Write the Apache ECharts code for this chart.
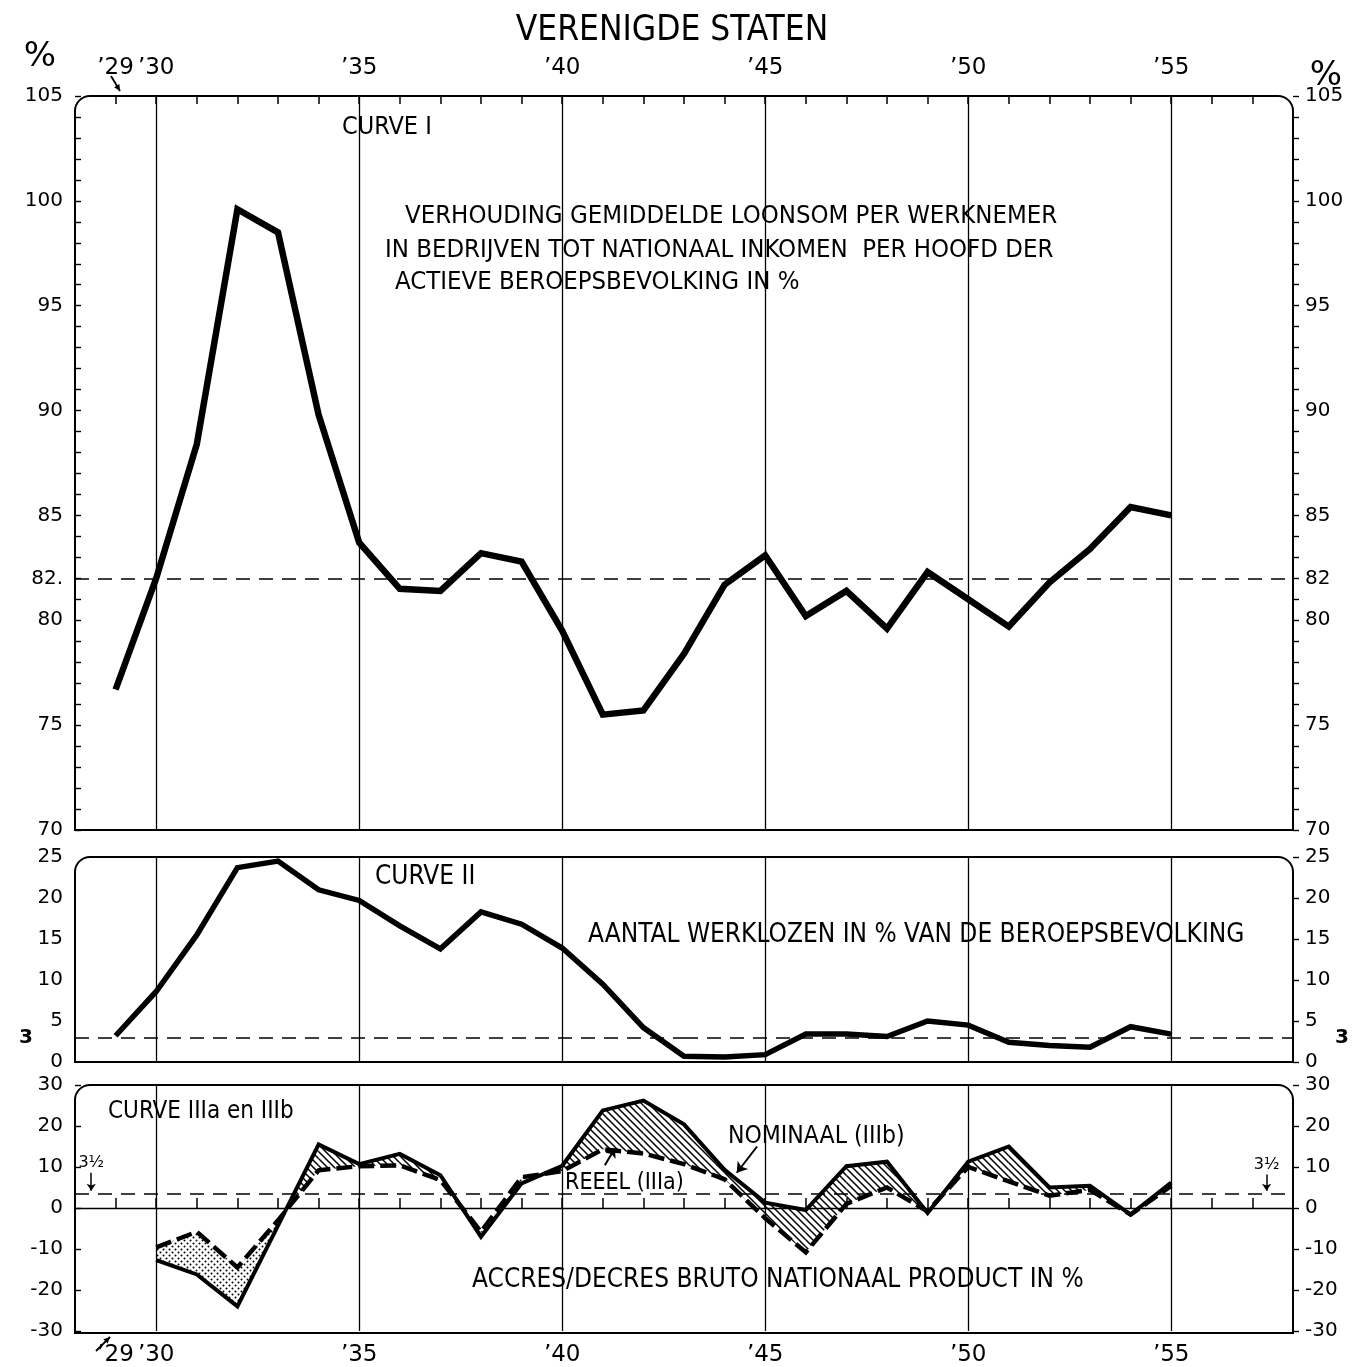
<!DOCTYPE html>
<html><head><meta charset="utf-8">
<script src="https://cdn.jsdelivr.net/npm/echarts@6/dist/echarts.min.js"></script>
<style>html,body{margin:0;padding:0;background:#fff}#c{width:1363px;height:1367px}</style>
</head><body><div id="c"></div>
<script>
// ---------------- DATA ----------------
const years = [1929,1930,1931,1932,1933,1934,1935,1936,1937,1938,1939,1940,1941,1942,1943,1944,1945,1946,1947,1948,1949,1950,1951,1952,1953,1954,1955];
// Curve I: loonsom per werknemer / nationaal inkomen per hoofd (%)
const curveI = [76.7,82.0,88.4,99.6,98.5,89.8,83.7,81.5,81.4,83.2,82.8,79.5,75.5,75.7,78.4,81.7,83.1,80.2,81.4,79.6,82.3,81.0,79.7,81.8,83.4,85.4,85.0];
// Curve II: werklozen in % van de beroepsbevolking
const curveII = [3.2,8.6,15.5,23.7,24.5,21.0,19.7,16.6,13.8,18.3,16.8,13.9,9.5,4.2,0.7,0.6,0.9,3.4,3.4,3.1,5.0,4.5,2.4,2.0,1.8,4.3,3.4];
// Curve III: accres/decres bruto nationaal product in %
const yearsIII = [1930,1931,1932,1933,1934,1935,1936,1937,1938,1939,1940,1941,1942,1943,1944,1945,1946,1947,1948,1949,1950,1951,1952,1953,1954,1955];
const nominaal = [-12.7,-16.2,-24.0,-4.3,15.5,10.7,13.2,8.0,-7.0,6.0,10.3,23.8,26.2,20.4,9.3,1.3,-0.5,10.2,11.3,-1.2,11.3,15.0,5.0,5.4,-1.6,6.2];
const reeel    = [-9.6,-5.8,-14.5,-3.0,9.2,10.2,10.4,6.8,-5.8,7.5,9.0,14.3,13.3,10.7,7.0,-2.5,-10.8,1.0,5.0,-0.8,10.0,6.5,3.0,4.4,-1.6,5.4];
// reference levels
const refI = 82, refII = 3, refIII = 3.5;
// ticks / labels
const xLabelYears = [1929,1930,1935,1940,1945,1950,1955];
const xTickYears = [1929,1930,1931,1932,1933,1934,1935,1936,1937,1938,1939,1940,1941,1942,1943,1944,1945,1946,1947,1948,1949,1950,1951,1952,1953,1954,1955,1956,1957];
const gridYears = [1930,1935,1940,1945,1950,1955];
const yLabelsI = [70,75,80,82,85,90,95,100,105];
const yTicksI = [70,71,72,73,74,75,76,77,78,79,80,81,82,83,84,85,86,87,88,89,90,91,92,93,94,95,96,97,98,99,100,101,102,103,104,105];
const yLabelsII = [0,5,10,15,20,25];
const yLabelsIII = [-30,-20,-10,0,10,20,30];

// ---------------- LAYOUT ----------------
const L = 75, R = 1293;
const G = [
  {top: 96, bottom: 830},
  {top: 857, bottom: 1062},
  {top: 1085, bottom: 1333}
];
const FC = "'DejaVu Sans Condensed','Liberation Sans Narrow','DejaVu Sans',sans-serif";
const FN = "'DejaVu Sans',sans-serif";
const X0 = 1928, X1 = 1958;

function hatch(){
  const c=document.createElement('canvas'); c.width=7; c.height=7;
  const g=c.getContext('2d'); g.strokeStyle='#000'; g.lineWidth=1.5;
  g.beginPath(); g.moveTo(-1,-1); g.lineTo(8,8); g.moveTo(-1,6); g.lineTo(1,8); g.moveTo(6,-1); g.lineTo(8,1); g.stroke();
  return c;
}
function dots(){
  const c=document.createElement('canvas'); c.width=6; c.height=6;
  const g=c.getContext('2d'); g.fillStyle='#000';
  g.beginPath(); g.arc(1.5,1.5,1.0,0,Math.PI*2); g.arc(4.5,4.5,1.0,0,Math.PI*2); g.fill();
  return c;
}
const HATCH = {image: hatch(), repeat: 'repeat'};
const DOTS = {image: dots(), repeat: 'repeat'};

const yr = v => '\u2019' + String(v).slice(2);
const thin = {color:'#000', width:1.3, type:'solid'};
const refDash = {color:'#000', width:1.6, type:[14,9]};

function vlines(){ return gridYears.map(y => ({xAxis: y, lineStyle: thin})); }

function xAxis(i, pos, showLabels){
  return {
    type:'value', gridIndex:i, min:X0, max:X1, position:pos,
    axisLine:{show:false}, splitLine:{show:false},
    axisTick:{show:showLabels, inside:true, length: i===0?8:10, customValues:xTickYears, lineStyle:{color:'#000', width:1.5}},
    axisLabel:{show:showLabels, customValues:xLabelYears, formatter:yr, fontSize:23, fontFamily:FN, color:'#000', margin: i===0?16:13}
  };
}
function yAxis(i, pos, min, max, labels, ticks, inside, fmt){
  return {
    type:'value', gridIndex:i, min:min, max:max, position:pos,
    axisLine:{show:false}, splitLine:{show:false},
    axisTick:{show:true, inside:inside, length:6, customValues:ticks, lineStyle:{color:'#000', width:1.4}},
    axisLabel:{customValues:labels, fontSize:20, fontFamily:FN, color:'#000', margin:12, formatter: fmt || (v=>String(v))}
  };
}

function arrowGfx(x1,y1,x2,y2){
  const a=Math.atan2(y2-y1,x2-x1), s=7;
  const p1=[x2-s*Math.cos(a-0.45), y2-s*Math.sin(a-0.45)];
  const p2=[x2-s*Math.cos(a+0.45), y2-s*Math.sin(a+0.45)];
  return [
    {type:'line', shape:{x1,y1,x2,y2}, style:{stroke:'#000', lineWidth:1.8}},
    {type:'polygon', shape:{points:[[x2,y2],p1,p2]}, style:{fill:'#000'}}
  ];
}
function txt(x,y,t,size,align,extra){
  return {type:'text', x, y, style:Object.assign({text:t, font:`${size}px ${FC}`, fill:'#000', textAlign:align||'left', textVerticalAlign:'middle'}, extra||{})};
}

const frames = G.map(g => ({type:'rect', shape:{x:L, y:g.top, width:R-L, height:g.bottom-g.top, r:[15,15,0,0]}, style:{fill:'none', stroke:'#000', lineWidth:2}, z:10}));
const lbl3 = (pos,d) => ({show:true, position:pos, formatter:'3', fontSize:20, fontWeight:'bold', fontFamily:FN, color:'#000', distance:d});
const lblHalf = {show:true, position:'start', formatter:'3\u00BD', fontSize:16, fontFamily:FN, color:'#000', distance:2};

const option = {
  animation:false,
  backgroundColor:'#fff',
  grid: G.map(g => ({left:L, right:1363-R, top:g.top, height:g.bottom-g.top})),
  xAxis:[ xAxis(0,'top',true), xAxis(1,'bottom',false), xAxis(2,'bottom',true) ],
  yAxis:[
    yAxis(0,'left',70,105,yLabelsI,yTicksI,true, v => v===82?'82.':String(v)),
    yAxis(0,'right',70,105,yLabelsI,yTicksI,false),
    yAxis(1,'left',0,25,yLabelsII,[],true),
    yAxis(1,'right',0,25,yLabelsII,yLabelsII,false),
    yAxis(2,'left',-30,30,yLabelsIII,yLabelsIII,true),
    yAxis(2,'right',-30,30,yLabelsIII,yLabelsIII,false)
  ],
  series:[
    {
      name:'Curve I', type:'line', xAxisIndex:0, yAxisIndex:0, symbol:'none', z:5,
      data: years.map((y,i)=>[y,curveI[i]]),
      lineStyle:{color:'#000', width:6.5, join:'miter'},
      markLine:{silent:true, symbol:['none','none'], label:{show:false}, animation:false,
        data: vlines().concat([[{coord:[X0,refI], lineStyle:refDash},{coord:[X1,refI]}]])}
    },
    {
      name:'Curve II', type:'line', xAxisIndex:1, yAxisIndex:2, symbol:'none', z:5,
      data: years.map((y,i)=>[y,curveII[i]]),
      lineStyle:{color:'#000', width:5.5, join:'miter'},
      markLine:{silent:true, symbol:['none','none'], label:{show:false}, animation:false,
        data: vlines().concat([
          [{coord:[X0,refII], lineStyle:refDash, label:lbl3('start',42)},{coord:[1943,refII]}],
          [{coord:[1943,refII], lineStyle:refDash, label:lbl3('end',42)},{coord:[X1,refII]}]
        ])}
    },
    {
      name:'verschil', type:'custom', xAxisIndex:2, yAxisIndex:4, z:2,
      data: yearsIII.map((y,i)=>[y,nominaal[i],reeel[i]]),
      encode:{x:0, y:[1,2]},
      renderItem:function(params, api){
        const i = params.dataIndex;
        if (i >= yearsIII.length-1) return null;
        const x0=yearsIII[i], x1=yearsIII[i+1];
        const n0=nominaal[i], n1=nominaal[i+1], r0=reeel[i], r1=reeel[i+1];
        const d0=n0-r0, d1=n1-r1;
        const polys=[];
        const mk=(pts,pos)=>({type:'polygon', shape:{points:pts.map(p=>api.coord(p))}, style:{fill: pos?HATCH:DOTS, stroke:null}});
        if (d0*d1 >= 0) {
          if (Math.abs(d0)+Math.abs(d1) > 0) polys.push(mk([[x0,n0],[x1,n1],[x1,r1],[x0,r0]], d0+d1>0));
        } else {
          const t=d0/(d0-d1), xc=x0+t*(x1-x0), yc=n0+t*(n1-n0);
          polys.push(mk([[x0,n0],[xc,yc],[x0,r0]], d0>0));
          polys.push(mk([[xc,yc],[x1,n1],[x1,r1]], d1>0));
        }
        return {type:'group', children:polys};
      }
    },
    {
      name:'Nominaal (IIIb)', type:'line', xAxisIndex:2, yAxisIndex:4, symbol:'none', z:5,
      data: yearsIII.map((y,i)=>[y,nominaal[i]]),
      lineStyle:{color:'#000', width:4, join:'miter'},
      markLine:{silent:true, symbol:['none','none'], label:{show:false}, animation:false,
        data: vlines().concat([
          [{coord:[X0,0], lineStyle:thin},{coord:[X1,0]}],
          [{coord:[X0,refIII], lineStyle:refDash},{coord:[X1,refIII]}],
          [{coord:[1928.4,8.6], symbol:'none', lineStyle:{color:'#000', width:1.5, type:'solid'}, label:lblHalf},{coord:[1928.4,4.2], symbol:'arrow', symbolSize:7}],
          [{coord:[1957.35,8.2], symbol:'none', lineStyle:{color:'#000', width:1.5, type:'solid'}, label:lblHalf},{coord:[1957.35,4.2], symbol:'arrow', symbolSize:7}],
          [{coord:[1944.8,15.0], symbol:'none', lineStyle:{color:'#000', width:2, type:'solid'}},{coord:[1944.3,8.6], symbol:'arrow', symbolSize:10}],
          [{coord:[1941.05,10.4], symbol:'none', lineStyle:{color:'#000', width:2, type:'solid'}},{coord:[1941.3,14.6], symbol:'arrow', symbolSize:9}]
        ])}
    },
    {
      name:'Reeel (IIIa)', type:'line', xAxisIndex:2, yAxisIndex:4, symbol:'none', z:6,
      data: yearsIII.map((y,i)=>[y,reeel[i]]),
      lineStyle:{color:'#000', width:4.5, type:[16,6], join:'miter'}
    }
  ],
  graphic: frames.concat([
    txt(672,31,'VERENIGDE STATEN',35,'center'),
    txt(40,57,'%',34,'center',{font:`34px ${FN}`}),
    txt(1326,76,'%',34,'center',{font:`34px ${FN}`}),
    txt(342,127,'CURVE I',25),
    txt(405,216,'VERHOUDING GEMIDDELDE LOONSOM PER WERKNEMER',25.5),
    txt(385,250,'IN BEDRIJVEN TOT NATIONAAL INKOMEN  PER HOOFD DER',25.5),
    txt(395,282,'ACTIEVE BEROEPSBEVOLKING IN %',25.5),
    txt(375,877,'CURVE II',26),
    txt(588,935,'AANTAL WERKLOZEN IN % VAN DE BEROEPSBEVOLKING',26),
    txt(108,1112,'CURVE IIIa en IIIb',24),
    txt(728,1137,'NOMINAAL (IIIb)',24.5),
    txt(565,1183,'REEEL (IIIa)',23),
    txt(472,1280,'ACCRES/DECRES BRUTO NATIONAAL PRODUCT IN %',26)
  ]).concat(arrowGfx(111,76,120,91)).concat(arrowGfx(96,1351,110,1337))
};

const chart = echarts.init(document.getElementById('c'), null, {renderer:'canvas'});
chart.setOption(option);
</script></body></html>
